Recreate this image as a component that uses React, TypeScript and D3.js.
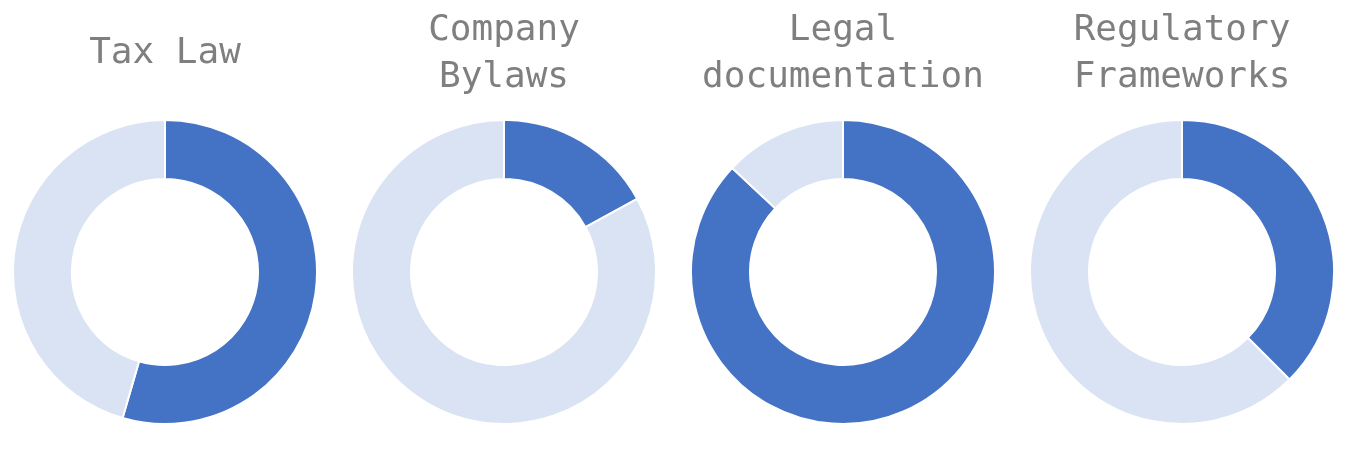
import * as d3 from 'd3';

const titles = [['Tax Law'], ['Company', 'Bylaws'], ['Legal', 'documentation'], ['Regulatory', 'Frameworks']];
const shares = [54.5, 17, 87, 37.5];
const colors = ['#4472C4', '#DAE3F3'];

export default function App() {
  const width = 1348;
  const height = 457;
  const x = d3.scalePoint<number>().domain(d3.range(titles.length)).range([165, 1182]);
  const cy = 272;
  const pie = d3.pie<number>().sort(null);
  const arc = d3.arc<d3.PieArcDatum<number>>().innerRadius(93).outerRadius(152);

  return (
    <svg width={width} height={height} style={{ position: 'fixed', left: 0, top: 0 }}>
      {titles.map((lines, i) => {
        const arcs = pie([shares[i], 100 - shares[i]]);
        const top = lines.length === 1 ? 63 : 40;
        return (
          <g key={i}>
            {lines.map((l, j) => (
              <text key={j} x={x(i)} y={top + j * 47} textAnchor="middle"
                fontFamily="'DejaVu Sans Mono', monospace" fontSize={36} fill="#7f7f7f">{l}</text>
            ))}
            <g transform={`translate(${x(i)},${cy})`}>
              {arcs.map((a, k) => (
                <path key={k} d={arc(a) ?? ''} fill={colors[k]} stroke="#fff" strokeWidth={2} />
              ))}
            </g>
          </g>
        );
      })}
    </svg>
  );
}
